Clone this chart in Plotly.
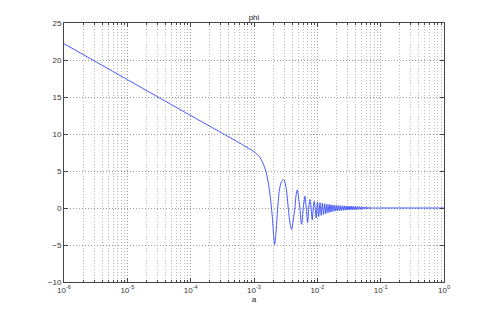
import numpy as np
import plotly.graph_objects as go

# a is stored as log10(a)
# smooth part: straight log-linear stretch, then the dive and first swings
main_exp = [-6.0, -5.0, -4.0, -3.5, -3.2, -3.0, -2.92, -2.86, -2.81, -2.77,
            -2.74, -2.71, -2.69, -2.675, -2.655, -2.626, -2.60, -2.565, -2.527, -2.49,
            -2.459, -2.43, -2.406, -2.38, -2.354, -2.335, -2.317, -2.298, -2.275, -2.26,
            -2.248, -2.222, -2.196, -2.175, -2.153, -2.135, -2.117, -2.099, -2.08, -2.065,
            -2.05, -2.034, -2.018]
main_phi = [22.2, 17.35, 12.5, 10.1, 8.65, 7.6, 7.0, 6.1, 4.9, 3.2,
            1.3, -1.3, -3.7, -4.95, -3.6, 0.0, 2.4, 3.6, 3.83, 2.6,
            0.0, -2.2, -2.9, -1.6, 0.0, 1.8, 2.45, 1.5, 0.0, -1.6,
            -2.2, 0.0, 1.6, 0.0, -2.0, 0.0, 1.15, 0.0, -1.6, 0.0,
            0.9, 0.0, -1.35]

# fast oscillations that look like a band
band_exp = [-1.998, -1.978, -1.958, -1.939, -1.920, -1.902, -1.884, -1.866, -1.849, -1.832,
            -1.815, -1.800, -1.785, -1.770, -1.755, -1.740, -1.725, -1.710, -1.695, -1.680,
            -1.665, -1.650, -1.635, -1.620, -1.605, -1.590, -1.575, -1.560, -1.545, -1.530,
            -1.515, -1.500, -1.485, -1.470, -1.455, -1.440, -1.425, -1.410, -1.395, -1.380,
            -1.365, -1.350, -1.335, -1.320, -1.305, -1.290, -1.275, -1.260, -1.245, -1.230,
            -1.215, -1.200, -1.185, -1.170, -1.155, -1.140, -1.125, -1.110, -1.095, -1.080,
            -1.065, -1.050]
band_phi = [0.80, -1.15, 0.72, -1.00, 0.65, -0.88, 0.58, -0.76, 0.52, -0.66,
            0.47, -0.58, 0.43, -0.50, 0.40, -0.45, 0.37, -0.41, 0.35, -0.38,
            0.33, -0.35, 0.31, -0.33, 0.30, -0.31, 0.29, -0.30, 0.27, -0.28,
            0.26, -0.27, 0.25, -0.25, 0.24, -0.24, 0.22, -0.22, 0.21, -0.21,
            0.20, -0.20, 0.18, -0.18, 0.17, -0.17, 0.15, -0.15, 0.14, -0.13,
            0.12, -0.11, 0.10, -0.09, 0.08, -0.07, 0.06, -0.05, 0.04, -0.03,
            0.02, -0.01]

tail_exp = [-1.0, -0.5, 0.0]
tail_phi = [0.0, 0.0, 0.0]

# tick labels
x_tickvals = [1e-6, 1e-5, 1e-4, 1e-3, 1e-2, 1e-1, 1e0]
x_ticktext = ["10<sup>-6</sup>", "10<sup>-5</sup>", "10<sup>-4</sup>", "10<sup>-3</sup>",
              "10<sup>-2</sup>", "10<sup>-1</sup>", "10<sup>0</sup>"]
y_tickvals = [-10, -5, 0, 5, 10, 15, 20, 25]

a = 10.0 ** np.array(main_exp + band_exp + tail_exp)
phi = main_phi + band_phi + tail_phi

font = dict(family="Liberation Sans, Arial, sans-serif", size=8, color="#333")

fig = go.Figure()
fig.add_trace(go.Scatter(x=a, y=phi, mode="lines",
                         line=dict(color="rgb(50,70,255)", width=0.9, shape="spline", smoothing=0.6),
                         showlegend=False))

# page body has an 8px margin, so the figure is a little smaller than the window
fig.update_layout(
    width=483, height=310,
    margin=dict(l=56, r=47, t=15, b=36),
    paper_bgcolor="white", plot_bgcolor="white",
    font=font,
    title=dict(text="phi", x=0.5, xanchor="center", xref="paper",
               y=1.0, yref="paper", yanchor="bottom", pad=dict(b=3),
               font=dict(size=8, color="#222"), automargin=False),
)

fig.update_xaxes(
    type="log", range=[-6, 0], tickvals=x_tickvals, ticktext=x_ticktext,
    showline=True, linecolor="#444", linewidth=1, mirror="allticks",
    ticks="inside", ticklen=4, tickcolor="#444",
    showgrid=True, gridcolor="#999", griddash="1px,2px", gridwidth=0.8,
    minor=dict(dtick="D1", ticks="inside", ticklen=2, tickcolor="#444",
               showgrid=True, gridcolor="#bbb", griddash="1px,2px", gridwidth=0.8),
    title=dict(text="a", font=dict(size=8, color="#222"), standoff=2),
    tickfont=dict(size=8, color="#333"),
    zeroline=False, automargin=False,
)
fig.update_yaxes(
    range=[-10, 25], tickvals=y_tickvals,
    showline=True, linecolor="#444", linewidth=1, mirror="allticks",
    ticks="inside", ticklen=4, tickcolor="#444",
    showgrid=True, gridcolor="#999", griddash="1px,2px", gridwidth=0.8,
    tickfont=dict(size=8, color="#333"),
    zeroline=False, automargin=False,
)

fig.write_html("out.html")
